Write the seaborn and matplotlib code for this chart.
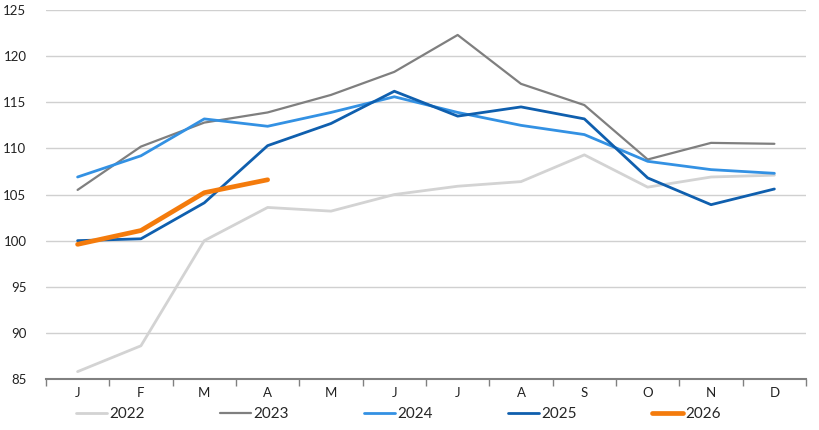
import pandas as pd
import seaborn as sns
import matplotlib.pyplot as plt
from matplotlib.ticker import FixedLocator

# Monthly index values
months = ["J", "F", "M", "A", "M", "J", "J", "A", "S", "O", "N", "D"]
years = ["2022", "2023", "2024", "2025", "2026"]

v2022 = [85.8, 88.6, 100.0, 103.6, 103.2, 105.0, 105.9, 106.4, 109.3, 105.8, 106.9, 107.1]
v2023 = [105.5, 110.2, 112.8, 113.9, 115.8, 118.3, 122.3, 117.0, 114.7, 108.8, 110.6, 110.5]
v2024 = [106.9, 109.2, 113.2, 112.4, 113.9, 115.6, 113.9, 112.5, 111.5, 108.6, 107.7, 107.3]
v2025 = [100.0, 100.2, 104.1, 110.3, 112.7, 116.2, 113.5, 114.5, 113.2, 106.8, 103.9, 105.6]
v2026 = [99.6, 101.1, 105.2, 106.6]

colors = {"2022": "#d3d3d3", "2023": "#7f7f7f", "2024": "#3391e3",
          "2025": "#0f5fae", "2026": "#f47b0c"}
widths = {"2022": 2.0, "2023": 1.6, "2024": 2.0, "2025": 2.0, "2026": 3.4}

series = dict(zip(years, [v2022, v2023, v2024, v2025, v2026]))
rows = []
for y, vals in series.items():
    for i, v in enumerate(vals):
        rows.append({"year": y, "pos": i, "value": v})
df = pd.DataFrame(rows)

sns.set_theme(style="white")
plt.rcParams["font.family"] = ["Lato", "DejaVu Sans"]

fig = plt.figure(figsize=(8.2, 4.3), dpi=100)
ax = fig.add_axes([0.056, 0.1186, 0.927, 0.858])

for y in years:
    sns.lineplot(data=df[df["year"] == y], x="pos", y="value", ax=ax,
                 color=colors[y], linewidth=widths[y], label=y)

ax.set_xlim(-0.5, 11.5)
ax.set_ylim(85, 125)
ax.set_yticks(range(85, 126, 5))
ax.yaxis.grid(True, color="#d0d0d0", linewidth=1.0)
ax.set_axisbelow(True)

ax.set_xticks(range(12))
ax.set_xticklabels(months)
ax.xaxis.set_minor_locator(FixedLocator([i - 0.5 for i in range(13)]))
ax.tick_params(axis="x", which="major", length=0, pad=6, labelsize=9.5, colors="#222222")
ax.tick_params(axis="x", which="minor", length=5, width=1, color="#808080", direction="out", bottom=True)
ax.tick_params(axis="y", length=0, pad=14, labelsize=9.5, colors="#222222")

for s in ["left", "right", "top"]:
    ax.spines[s].set_visible(False)
ax.spines["bottom"].set_color("#808080")
ax.spines["bottom"].set_linewidth(1.5)
ax.set_xlabel("")
ax.set_ylabel("")

ax.legend(loc="upper center", bbox_to_anchor=(0.464, -0.06), ncol=5, frameon=False,
          fontsize=11, handlelength=2.0, handletextpad=0.2, columnspacing=4.9,
          borderaxespad=0)

fig.savefig("out.png", dpi=100)
